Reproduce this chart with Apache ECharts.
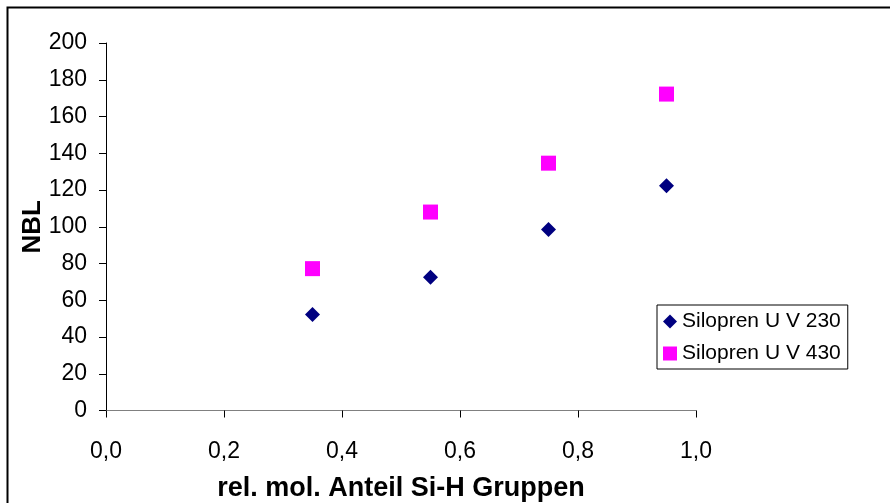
<!DOCTYPE html>
<html>
<head>
<meta charset="utf-8">
<script src="https://cdn.jsdelivr.net/npm/echarts@6/dist/echarts.min.js"></script>
<style>
  html, body { margin: 0; padding: 0; background: #fff; }
  #chart { width: 890px; height: 503px; }
</style>
</head>
<body>
<div id="chart"></div>
<script>
// Si-H fraction (x) and NBL values for both silicone grades
const siHFraction = [0.35, 0.55, 0.75, 0.95];
const nblUV230 = [52.3, 72.5, 98.5, 122.3];
const nblUV430 = [77.2, 108.0, 134.6, 172.2];
const seriesNames = ['Silopren U V 230', 'Silopren U V 430'];
const xTitle = 'rel. mol. Anteil Si-H Gruppen';
const yTitle = 'NBL';

const pairs = (xs, ys) => xs.map((x, i) => [x, ys[i]]);
const font = 'Liberation Sans, Arial, sans-serif';

const chart = echarts.init(document.getElementById('chart'), null, { renderer: 'canvas' });
chart.setOption({
  backgroundColor: '#ffffff',
  animation: false,
  graphic: [{
    type: 'rect',
    shape: { x: 7.5, y: 7.5, width: 900, height: 520 },
    style: { fill: 'none', stroke: '#000', lineWidth: 2 },
    silent: true
  }],
  grid: {
    left: 106, right: 194, top: 43, bottom: 92.5,
    containLabel: false, outerBoundsMode: 'none'
  },
  xAxis: {
    type: 'value', min: 0, max: 1, interval: 0.2,
    name: xTitle, nameLocation: 'middle', nameGap: 65, nameMoveOverlap: false,
    nameTextStyle: { fontFamily: font, fontSize: 27, fontWeight: 'bold', color: '#000' },
    axisLine: { show: true, lineStyle: { color: '#808080', width: 1 } },
    axisTick: { show: true, inside: false, length: 7, lineStyle: { color: '#000' } },
    axisLabel: { margin: 30, fontFamily: font, fontSize: 23, color: '#000',
      formatter: v => v.toFixed(1).replace('.', ',') },
    splitLine: { show: false }
  },
  yAxis: {
    type: 'value', min: 0, max: 200, interval: 20,
    name: yTitle, nameLocation: 'middle', nameGap: 60, nameRotate: 90, nameMoveOverlap: false,
    nameTextStyle: { fontFamily: font, fontSize: 26, fontWeight: 'bold', color: '#000' },
    axisLine: { show: true, lineStyle: { color: '#000', width: 1 } },
    axisTick: { show: true, inside: false, length: 7, lineStyle: { color: '#000' } },
    axisLabel: { margin: 19, fontFamily: font, fontSize: 23, color: '#000' },
    splitLine: { show: false }
  },
  legend: {
    orient: 'vertical', left: 657, top: 305,
    backgroundColor: '#fff', borderColor: '#000', borderWidth: 1,
    padding: [6, 7, 5, 6], itemGap: 11, itemWidth: 14, itemHeight: 14,
    textStyle: { fontFamily: font, fontSize: 21, color: '#000' },
    data: [
      { name: seriesNames[0], icon: 'diamond' },
      { name: seriesNames[1], icon: 'rect' }
    ]
  },
  series: [
    {
      name: seriesNames[0], type: 'scatter', symbol: 'diamond', symbolSize: 15,
      itemStyle: { color: '#000080', opacity: 1 }, data: pairs(siHFraction, nblUV230)
    },
    {
      name: seriesNames[1], type: 'scatter', symbol: 'rect', symbolSize: 15,
      itemStyle: { color: '#ff00ff', opacity: 1 }, data: pairs(siHFraction, nblUV430)
    }
  ]
});
</script>
</body>
</html>
